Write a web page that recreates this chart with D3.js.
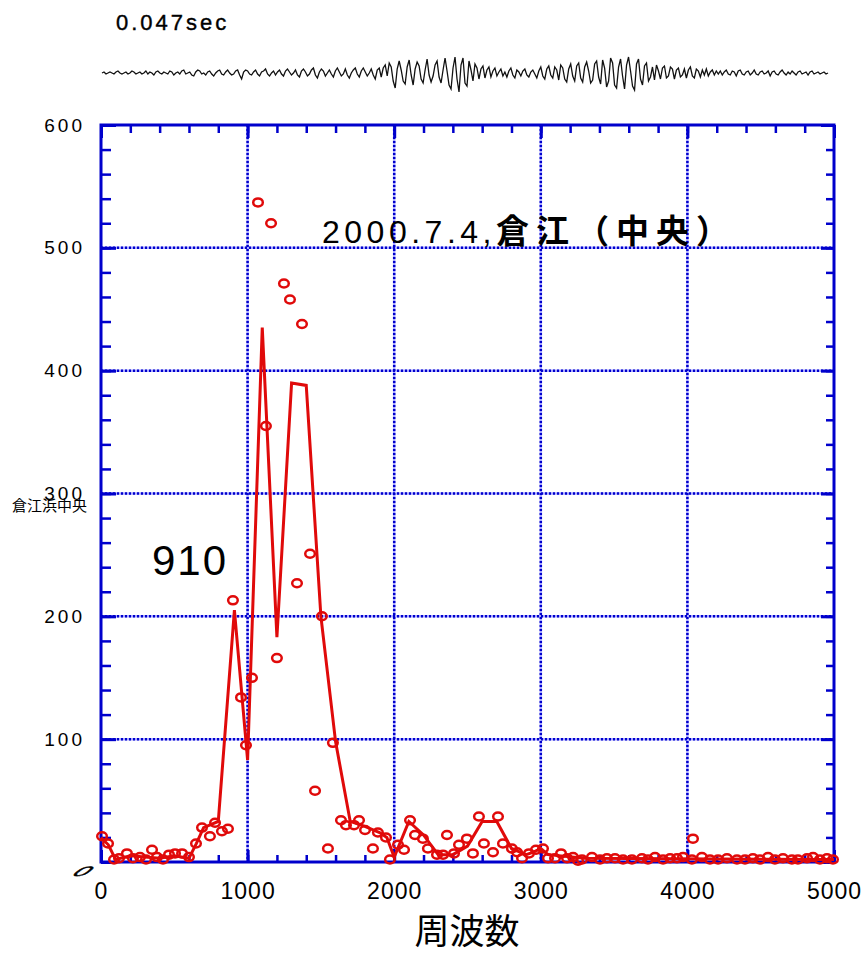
<!DOCTYPE html>
<html>
<head>
<meta charset="utf-8">
<script src="https://cdn.jsdelivr.net/npm/d3@7"></script>
<style>
body{margin:0;background:#fff;}
svg text{font-family:"Liberation Sans", Arial, sans-serif;fill:#000;}
</style>
</head>
<body>
<svg id="chart" width="864" height="954"></svg>
<script>
//axis ticks
var xTicks = [0, 1000, 2000, 3000, 4000, 5000];
var yTicks = [0, 100, 200, 300, 400, 500, 600];
var xGrid = [1000, 2000, 3000, 4000];
var yGrid = [100, 200, 300, 400, 500];

//circles (frequency, amplitude)
var pointFreq = [7,48,89,123,177,218,266,307,348,382,
	423,464,505,553,600,648,689,743,778,825,
	866,900,955,989,1030,1071,1125,1160,1200,1248,
	1289,1337,1371,1426,1460,1507,1548,1582,1637,1671,
	1726,1760,1801,1855,1889,1944,1971,2026,2067,2108,
	2142,2196,2230,2292,2333,2360,2408,2442,2496,2537,
	2578,2612,2674,2708,2742,2803,2838,2872,2919,2967,
	3015,3049,3097,3138,3179,3220,3254,
	3281,3349,3404,3451,3506,3561,3622,3690,3731,3779,
	3834,3882,3929,3970,4031,4038,4099,4154,4209,4270,
	4338,4393,4447,4495,4550,4597,4652,4713,4754,4816,
	4857,4904,4952,4993];
var pointAmp = [21,15,2,3,7,3,4,2,10,4,
	2,6,7,7,4,15,28,21,32,25,
	27,213,134,95,150,537,355,520,166,471,
	458,227,438,251,58,200,11,97,34,30,
	30,34,26,11,24,20,2,14,10,34,
	22,19,11,6,6,22,7,14,19,7,
	37,15,8,37,15,11,8,3,7,10,
	11,3,3,7,3,4,1,
	2,4,2,3,3,2,2,3,2,4,
	2,3,3,4,2,19,4,2,2,3,
	2,2,3,2,4,2,3,2,2,3,
	4,2,3,2];

//smoothed line
var lineFreq = [0,50,100,200,300,400,500,600,650,700,
	800,910,1000,1100,1200,1300,1400,1500,1600,1700,
	1800,1900,1950,2000,2100,2200,2250,2300,2400,2500,
	2600,2700,2800,2900,2950,3000,3050,3300,5000];
var lineAmp = [20,14,2,5,4,3,5,3,15,28,
	33,205,83,435,183,390,388,200,98,33,
	29,24,20,4,33,22,14,6,6,13,
	33,33,11,6,8,11,6,3,2];

//waveform on top
var waveAmp = [0,1,-1,0,1,0,-1,1,2,0,-1,0,1,-1,0,2,1,-1,0,1,
	-1,0,2,-1,1,0,-2,1,2,0,-1,1,0,-1,2,1,-2,0,1,-1,
	2,3,-1,0,1,-2,-3,1,3,2,-1,0,-2,1,2,-1,-3,0,2,3,
	-1,-2,1,3,0,-2,-1,2,3,-2,-6,1,3,2,-1,-2,1,3,-1,-3,
	1,2,4,-1,-3,0,2,-2,1,3,-1,-3,2,4,1,-2,0,3,-2,-4,
	2,4,1,-3,-1,3,5,-2,-5,1,4,2,-3,0,3,-1,-4,2,5,1,
	-3,-1,4,-2,-5,0,3,5,-1,-4,2,5,1,-3,0,4,-2,-6,3,5,
	-4,5,8,-3,10,6,-8,-15,4,12,3,-8,-11,6,13,-2,-12,4,11,7,
	-6,-10,3,14,-2,-9,-3,8,12,-4,-10,3,15,2,-12,-16,5,16,-6,-19,
	8,15,-10,-13,12,3,-8,9,5,-6,4,7,-5,3,6,-4,2,5,-3,1,
	4,-3,1,-4,2,5,-2,-5,3,1,-3,2,4,-2,-4,1,3,-1,-5,2,6,-3,-6,4,7,-2,-5,
	6,3,-7,8,5,-6,-9,4,9,-3,-8,7,10,-5,-9,6,11,2,-10,-7,9,12,-4,-11,
	13,5,-14,-8,15,10,-12,-15,6,14,-3,-16,8,16,2,-13,-17,9,14,-6,-12,7,10,-8,-4,
	6,-7,8,2,-6,5,7,-5,-3,6,4,-6,3,5,-4,-2,4,-5,3,6,-3,-5,4,2,-4,3,-2,4,-3,1,3,-2,2,
	-1,2,-2,1,3,-1,-2,2,1,-3,2,3,-1,-2,1,2,-2,0,3,-1,-2,1,2,-1,0,2,-3,1,2,-1,
	-2,1,3,0,-2,1,-1,2,0,-2,1,2,-1,0,1,-2,1,2,-1,0,1,-1,0,1,-1,0];

var blue = "#0000cc";
var red = "#e00a0a";
var plotLeft = 101, plotRight = 834, plotTop = 125, plotBottom = 862;

var svg = d3.select("#chart");

var x = d3.scaleLinear().domain([0, 5000]).range([plotLeft, plotRight]);
var y = d3.scaleLinear().domain([0, 600]).range([plotBottom, plotTop]);

//waveform
var wx = d3.scaleLinear().domain([0, waveAmp.length - 1]).range([102, 828]);
var wy = d3.scaleLinear().domain([-20, 20]).range([93, 53]);
svg.append("path")
	.datum(waveAmp)
	.attr("fill", "none")
	.attr("stroke", "#111")
	.attr("stroke-width", 1.3)
	.attr("d", d3.line().x(function(d, i){ return wx(i) }).y(function(d){ return wy(d) }));

svg.append("text")
	.attr("x", 116).attr("y", 30)
	.style("font-size", "22px")
	.style("letter-spacing", "3px")
	.style("stroke", "#000").style("stroke-width", 0.4)
	.text("0.047sec");

//grid, dotted blue
var grid = svg.append("g");
grid.selectAll("line.gx").data(xGrid).enter().append("line")
	.attr("x1", function(d){ return x(d) }).attr("x2", function(d){ return x(d) })
	.attr("y1", plotTop).attr("y2", plotBottom)
	.attr("stroke", "#a8a8ff").attr("stroke-width", 2.5);
grid.selectAll("line.gy").data(yGrid).enter().append("line")
	.attr("y1", function(d){ return y(d) }).attr("y2", function(d){ return y(d) })
	.attr("x1", plotLeft).attr("x2", plotRight)
	.attr("stroke", "#a8a8ff").attr("stroke-width", 2.5);
grid.selectAll("line.dx").data(xGrid).enter().append("line")
	.attr("x1", function(d){ return x(d) }).attr("x2", function(d){ return x(d) })
	.attr("y1", plotTop).attr("y2", plotBottom)
	.attr("stroke", blue).attr("stroke-width", 2.5).attr("stroke-dasharray", "2,2");
grid.selectAll("line.dy").data(yGrid).enter().append("line")
	.attr("y1", function(d){ return y(d) }).attr("y2", function(d){ return y(d) })
	.attr("x1", plotLeft).attr("x2", plotRight)
	.attr("stroke", blue).attr("stroke-width", 2.5).attr("stroke-dasharray", "2,2");

//axes, ticks point inward
function styleAxis(g, w){
	g.select(".domain").remove();
	g.selectAll(".tick line").attr("stroke", blue).attr("stroke-width", w);
}
var xMinor = d3.range(0, 5001, 200);
var yMinor = d3.range(0, 601, 20);

svg.append("g").attr("transform", "translate(0," + plotBottom + ")")
	.call(d3.axisBottom(x).tickValues(xMinor).tickSize(-7).tickFormat(""))
	.call(styleAxis, 2.5);
svg.append("g").attr("transform", "translate(0," + plotTop + ")")
	.call(d3.axisTop(x).tickValues(xMinor).tickSize(-8).tickFormat(""))
	.call(styleAxis, 2.5);
svg.append("g").attr("transform", "translate(" + plotLeft + ",0)")
	.call(d3.axisLeft(y).tickValues(yMinor).tickSize(-10).tickFormat(""))
	.call(styleAxis, 2.5);
svg.append("g").attr("transform", "translate(" + plotRight + ",0)")
	.call(d3.axisRight(y).tickValues(yMinor).tickSize(-8).tickFormat(""))
	.call(styleAxis, 2.5);

var xAxis = svg.append("g").attr("transform", "translate(0," + plotBottom + ")")
	.call(d3.axisBottom(x).tickValues(xTicks).tickSize(-12).tickPadding(21).tickFormat(d3.format("d")))
	.call(styleAxis, 3);
xAxis.selectAll("text").style("font-size", "23px").style("letter-spacing", "1px")
	.style("font-family", "Liberation Sans, Arial, sans-serif").attr("fill", "#000");
svg.append("g").attr("transform", "translate(0," + plotTop + ")")
	.call(d3.axisTop(x).tickValues(xTicks).tickSize(-13).tickFormat(""))
	.call(styleAxis, 3);
var yAxis = svg.append("g").attr("transform", "translate(" + plotLeft + ",0)")
	.call(d3.axisLeft(y).tickValues(yTicks).tickSize(-15).tickPadding(16)
		.tickFormat(function(d){ return d == 0 ? "" : d }))
	.call(styleAxis, 3);
yAxis.selectAll("text").style("font-size", "19px").style("letter-spacing", "3px")
	.style("font-family", "Liberation Sans, Arial, sans-serif").attr("fill", "#000");
svg.append("g").attr("transform", "translate(" + plotRight + ",0)")
	.call(d3.axisRight(y).tickValues(yTicks).tickSize(-13).tickFormat(""))
	.call(styleAxis, 3);

//slanted zero at the corner
svg.append("text")
	.attr("transform", "translate(71,876) skewX(-45) scale(1.4,0.72)")
	.style("font-size", "19px")
	.style("font-style", "italic")
	.style("stroke", "#000").style("stroke-width", 0.6)
	.text("0");

//frame
svg.append("rect")
	.attr("x", plotLeft).attr("y", plotTop)
	.attr("width", plotRight - plotLeft).attr("height", plotBottom - plotTop)
	.attr("fill", "none").attr("stroke", blue).attr("stroke-width", 3);

//data line
var line = d3.line()
	.x(function(d, i){ return x(lineFreq[i]) })
	.y(function(d){ return y(d) });
svg.append("path")
	.datum(lineAmp)
	.attr("fill", "none")
	.attr("stroke", red)
	.attr("stroke-width", 3)
	.attr("stroke-linejoin", "miter")
	.attr("d", line);

//circles
svg.append("g").selectAll("ellipse")
	.data(pointAmp)
  .enter().append("ellipse")
	.attr("cx", function(d, i){ return x(pointFreq[i]) })
	.attr("cy", function(d){ return y(d) })
	.attr("rx", 4.8)
	.attr("ry", 4)
	.attr("fill", "none")
	.attr("stroke", red)
	.attr("stroke-width", 2.5);

//labels
var title = svg.append("text")
	.attr("x", 322).attr("y", 243)
	.style("font-size", "32px")
	.style("letter-spacing", "4.5px");
title.append("tspan").text("2000.7.4,");
title.append("tspan")
	.style("font-family", "'Noto Sans CJK JP', sans-serif")
	.style("font-weight", "bold")
	.style("font-size", "33px")
	.style("letter-spacing", "7px")
	.text("倉江（中央）");

svg.append("text")
	.attr("x", 152).attr("y", 575)
	.style("font-size", "42px")
	.style("letter-spacing", "2px")
	.text("910");

svg.append("text")
	.attr("x", 12).attr("y", 511)
	.style("font-family", "'Noto Sans CJK JP', sans-serif")
	.style("font-size", "15px")
	.text("倉江浜中央");

svg.append("text")
	.attr("x", 467).attr("y", 944)
	.attr("text-anchor", "middle")
	.style("font-family", "'Noto Sans CJK JP', sans-serif")
	.style("font-size", "35px")
	.text("周波数");
</script>
</body>
</html>
